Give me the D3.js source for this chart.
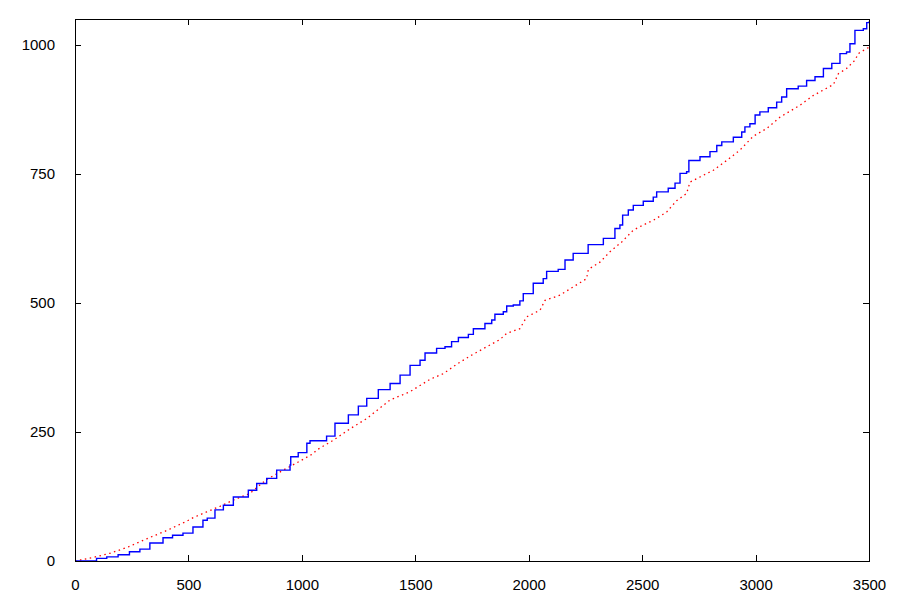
<!DOCTYPE html>
<html>
<head>
<meta charset="utf-8">
<script src="https://cdn.jsdelivr.net/npm/d3@7"></script>
<style>
  html, body { margin: 0; padding: 0; background: #fff; }
  svg { display: block; }
</style>
</head>
<body>
<svg id="chart" width="900" height="600"></svg>
<script>
// X/Y tick values
const xTicks = [0, 500, 1000, 1500, 2000, 2500, 3000, 3500];
const yTicks = [0, 250, 500, 750, 1000];

// Blue series (staircase): x positions and cumulative values
const blueX = [0, 80, 95, 140, 190, 240, 286, 330, 388, 430, 476, 520, 564, 583, 617, 654, 698, 764, 801, 845, 889, 948, 951, 984, 1022, 1036, 1109, 1146, 1205, 1249, 1286, 1337, 1389, 1433, 1477, 1521, 1543, 1594, 1631, 1660, 1690, 1734, 1756, 1785, 1807, 1837, 1851, 1888, 1903, 1932, 1961, 1976, 2020, 2064, 2079, 2130, 2160, 2196, 2262, 2329, 2380, 2402, 2414, 2439, 2461, 2505, 2549, 2564, 2615, 2645, 2667, 2696, 2706, 2755, 2799, 2829, 2851, 2902, 2939, 2953, 2975, 2998, 3019, 3056, 3093, 3115, 3137, 3188, 3225, 3262, 3299, 3336, 3372, 3401, 3416, 3438, 3475, 3490, 3500];
const blueY = [0, 0, 5, 8, 12, 18, 23, 35, 45, 50, 54, 66, 79, 83, 99, 108, 124, 137, 150, 160, 176, 186, 202, 210, 228, 233, 242, 267, 283, 300, 315, 332, 344, 360, 379, 389, 403, 412, 415, 425, 433, 439, 450, 450, 460, 467, 478, 483, 494, 496, 504, 518, 538, 547, 561, 565, 583, 596, 613, 625, 644, 651, 670, 680, 689, 697, 705, 715, 722, 732, 751, 754, 776, 783, 793, 805, 812, 821, 831, 841, 847, 864, 870, 878, 889, 899, 915, 920, 931, 938, 954, 964, 983, 986, 1002, 1028, 1031, 1043, 1045];

// Red series (dotted)
const redX = [0, 81, 154, 228, 316, 404, 492, 521, 580, 639, 698, 771, 845, 918, 977, 1050, 1065, 1139, 1212, 1286, 1389, 1477, 1565, 1624, 1682, 1741, 1815, 1873, 1903, 1961, 1991, 2050, 2072, 2138, 2196, 2255, 2263, 2314, 2358, 2410, 2461, 2505, 2549, 2608, 2652, 2696, 2711, 2755, 2814, 2873, 2931, 2990, 3049, 3108, 3196, 3255, 3343, 3365, 3401, 3438, 3453, 3490, 3500];
const redY = [0, 7, 15, 26, 43, 59, 77, 84, 95, 106, 118, 131, 158, 176, 190, 208, 215, 234, 256, 276, 312, 328, 352, 363, 381, 397, 415, 429, 441, 450, 473, 486, 505, 515, 531, 547, 565, 579, 599, 618, 641, 651, 660, 676, 698, 712, 734, 744, 757, 776, 796, 823, 838, 860, 883, 902, 923, 944, 954, 970, 983, 993, 995];

const svg = d3.select("#chart");
const L = 75, R = 869, T = 19, B = 561;

const x = d3.scaleLinear().domain([0, 3500]).range([L, R]);
const y = d3.scaleLinear().domain([0, 1050]).range([B, T]);

const font = "'Liberation Sans', Arial, sans-serif";
const fmt = d3.format("d");

// Series
const blueData = blueX.map((d, i) => [d, blueY[i]]);
const redData = redX.map((d, i) => [d, redY[i]]);

svg.append("path")
  .datum(redData)
  .attr("fill", "none")
  .attr("stroke", "#ff0000")
  .attr("stroke-width", 1.3)
  .attr("stroke-dasharray", "1.5,3.5")
  .attr("d", d3.line().x(d => x(d[0])).y(d => y(d[1])));

svg.append("path")
  .datum(blueData)
  .attr("fill", "none")
  .attr("stroke", "#0000ff")
  .attr("stroke-width", 1.4)
  .attr("d", d3.line().curve(d3.curveStepAfter).x(d => x(d[0])).y(d => y(d[1])));

// Axes (ticks inward, mirrored)
const tl = 6;
const gBottom = svg.append("g").attr("transform", `translate(0,${B})`)
  .call(d3.axisBottom(x).tickValues(xTicks).tickFormat(fmt).tickSizeInner(-tl).tickSizeOuter(0).tickPadding(12 + tl));
const gTop = svg.append("g").attr("transform", `translate(0,${T})`)
  .call(d3.axisTop(x).tickValues(xTicks).tickSizeInner(-tl).tickSizeOuter(0).tickFormat(""));
const gLeft = svg.append("g").attr("transform", `translate(${L},0)`)
  .call(d3.axisLeft(y).tickValues(yTicks).tickFormat(fmt).tickSizeInner(-tl).tickSizeOuter(0).tickPadding(14 + tl));
const gRight = svg.append("g").attr("transform", `translate(${R},0)`)
  .call(d3.axisRight(y).tickValues(yTicks).tickSizeInner(-tl).tickSizeOuter(0).tickFormat(""));

[gBottom, gTop, gLeft, gRight].forEach(g => {
  g.select(".domain").remove();
  g.selectAll("line").attr("stroke", "#000").attr("shape-rendering", "crispEdges");
  g.selectAll("text").attr("font-family", font).attr("font-size", 15).attr("fill", "#000");
});

// Frame
svg.append("rect")
  .attr("x", L).attr("y", T).attr("width", R - L).attr("height", B - T)
  .attr("fill", "none").attr("stroke", "#000").attr("stroke-width", 1)
  .attr("shape-rendering", "crispEdges");
</script>
</body>
</html>
